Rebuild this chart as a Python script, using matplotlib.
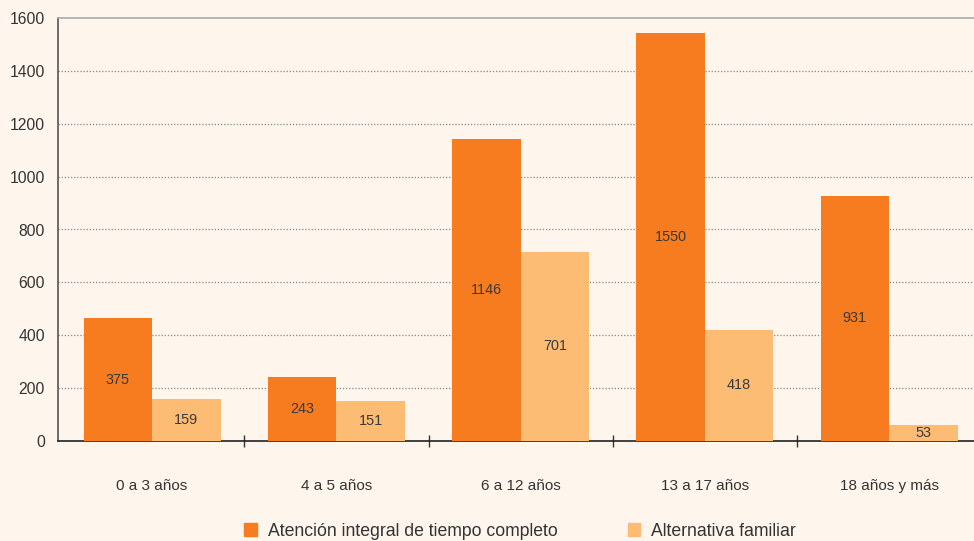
import matplotlib
matplotlib.use('Agg')
import matplotlib.pyplot as plt
import numpy as np
from matplotlib.patches import Patch

categories = ['0 a 3 años', '4 a 5 años', '6 a 12 años', '13 a 17 años', '18 años y más']
atencion = [465, 242, 1142, 1543, 927]
atencion_lbl = ['375', '243', '1146', '1550', '931']
alternativa = [159, 151, 715, 420, 60]
alternativa_lbl = ['159', '151', '701', '418', '53']
series_names = ['Atención integral de tiempo completo', 'Alternativa familiar']

bg = '#FEF6EC'
c1 = '#F77B1F'
c2 = '#FDBC74'
txt = '#333333'
plt.rcParams['font.family'] = ['Liberation Sans', 'DejaVu Sans']

fig = plt.figure(figsize=(9.74, 5.41), dpi=100, facecolor=bg)
ax = fig.add_axes([58/974, 100/541, 916/974, 423/541], facecolor=bg)

x = np.arange(len(categories)) + 0.5
w = 0.372
b1 = ax.bar(x - w/2, atencion, w, color=c1, zorder=3)
b2 = ax.bar(x + w/2, alternativa, w, color=c2, zorder=3)
ax.bar_label(b1, labels=atencion_lbl, label_type='center', fontsize=10.4, color='#3a3a3a')
ax.bar_label(b2, labels=alternativa_lbl, label_type='center', fontsize=10.4, color='#3a3a3a')

ax.set_xlim(-2/184.25, 914/184.25)
ax.set_ylim(0, 1600)
ax.set_yticks(range(0, 1601, 200))
ax.tick_params(axis='y', length=0, labelsize=11.3, colors=txt, pad=9.4)
for yv in range(200, 1600, 200):
    ax.axhline(yv, color='#888888', lw=0.9, ls=(0, (1, 1.5)), zorder=1)

ax.set_xticks([1, 2, 3, 4])
ax.set_xticklabels([])
ax.set_xticks(x, minor=True)
ax.set_xticklabels(categories, minor=True)
ax.tick_params(axis='x', which='major', direction='inout', length=8, color='#333333', width=1)
ax.tick_params(axis='x', which='minor', length=0, labelsize=11, colors=txt, pad=27.5)

ax.spines['left'].set_color('#555555')
ax.spines['left'].set_linewidth(1.2)
ax.spines['bottom'].set_color('#222222')
ax.spines['bottom'].set_linewidth(1.2)
ax.spines['top'].set_color('#aaaaaa')
ax.spines['top'].set_linewidth(1.2)
ax.spines['right'].set_visible(False)

handles = [Patch(color=c1), Patch(color=c2)]
fig.legend(handles, series_names, loc='center', bbox_to_anchor=(520/974, 1 - 531/541),
           ncol=2, frameon=False, fontsize=12.7, handlelength=0.71, handleheight=0.71,
           handletextpad=0.62, columnspacing=3.97, labelcolor=txt)

fig.savefig('out.png', dpi=100, facecolor=bg)
